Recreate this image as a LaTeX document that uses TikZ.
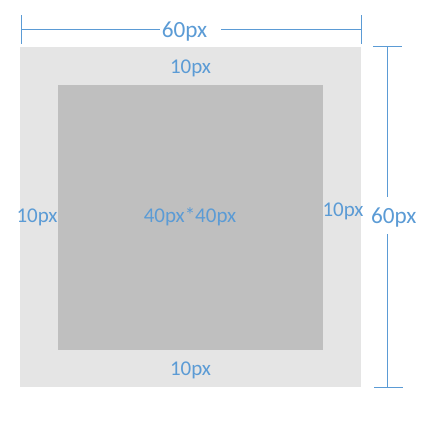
\documentclass[tikz,border=0pt]{standalone}
\usepackage{fontspec}
\setmainfont{Carlito}
\definecolor{dimblue}{RGB}{91,155,213}
\definecolor{outergray}{RGB}{229,229,229}
\definecolor{innergray}{RGB}{191,191,191}

\begin{document}
\begin{tikzpicture}[x=1pt,y=-1pt,
        dim/.style={draw=dimblue, line width=1pt},
        small/.style={text=dimblue, font=\fontsize{21}{24}\selectfont, inner sep=0pt, anchor=base},
        big/.style={text=dimblue, font=\fontsize{23.2}{26}\selectfont, inner sep=0pt, anchor=base}]
        \useasboundingbox (0,0) rectangle (424,424);

        % vnejsi ctverec
        \fill[outergray] (20,47) rectangle (361,387);
        % vnitrni ctverec
        \fill[innergray] (58,85) rectangle (323,350);

        % popisky okraju
        \node[small] (mtop) at (190.5,73.7) {10px};
        \node[small] (mbottom) at (190.5,375.7) {10px};
        \node[small] (mleft) at (37,222.7) {10px};
        \node[small] (mright) at (343,216) {10px};
        \node[small] (inner) at (190,222.7) {40px*40px};

        % kota sirky
        \node[big] (width) at (184.5,37.3) {60px};
        \coordinate (wl) at (21,29.5);
        \coordinate (wr) at (361,29.5);
        \draw[dim] (21,15) -- (21,44);
        \draw[dim] (361,15) -- (361,44);
        \draw[dim] (wl) -- ([xshift=-2pt]wl -| width.west);
        \draw[dim] ([xshift=14pt]wr -| width.east) -- (wr);

        % kota vysky
        \node[big] (height) at (393.7,223) {60px};
        \coordinate (ht) at (387.5,46.5);
        \coordinate (hb) at (387.5,387.5);
        \draw[dim] (373,46.5) -- (402,46.5);
        \draw[dim] (374,387.5) -- (403,387.5);
        \draw[dim] (ht) -- ([yshift=10pt]ht |- height.north);
        \draw[dim] ([yshift=-7.5pt]hb |- height.south) -- (hb);
    \end{tikzpicture}
\end{document}
